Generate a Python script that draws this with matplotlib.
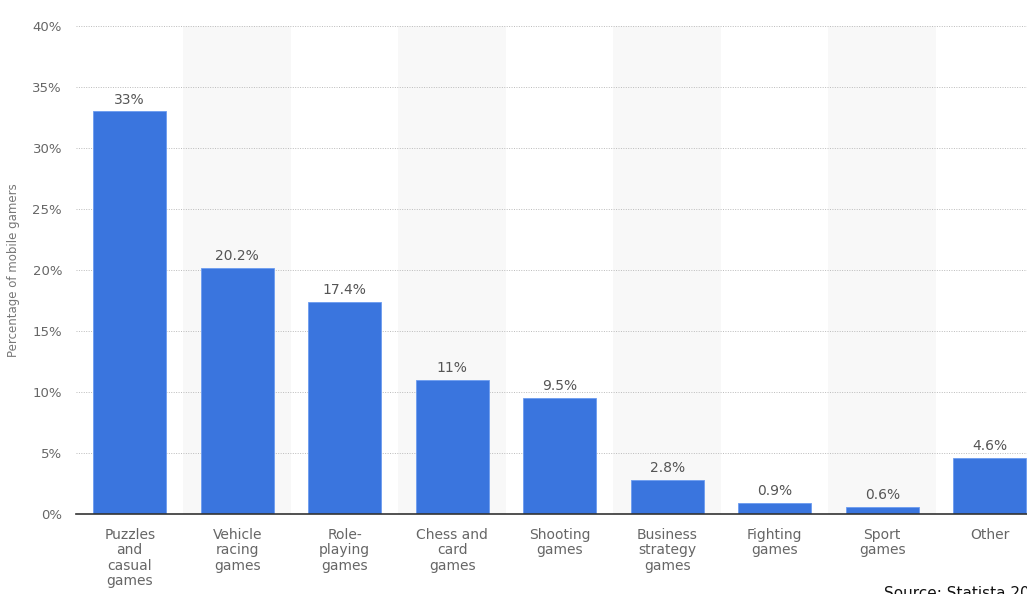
import matplotlib
matplotlib.use("Agg")
import matplotlib.pyplot as plt

categories = ["Puzzles\nand\ncasual\ngames", "Vehicle\nracing\ngames", "Role-\nplaying\ngames",
              "Chess and\ncard\ngames", "Shooting\ngames", "Business\nstrategy\ngames",
              "Fighting\ngames", "Sport\ngames", "Other"]
values = [33, 20.2, 17.4, 11, 9.5, 2.8, 0.9, 0.6, 4.6]
value_labels = ["33%", "20.2%", "17.4%", "11%", "9.5%", "2.8%", "0.9%", "0.6%", "4.6%"]
yticks = [0, 5, 10, 15, 20, 25, 30, 35, 40]

fig = plt.figure(figsize=(10.27, 5.94), dpi=100)
ax = fig.add_axes([0.074, 0.1347, 0.942, 0.8215])

x = list(range(len(categories)))
# alternating background bands
for i in x:
    if i % 2 == 1:
        ax.axvspan(i - 0.5, i + 0.5, color="#f8f8f8", zorder=0, lw=0)

ax.bar(x, values, width=0.68, color="#3a75de", edgecolor="#6c9cf0", linewidth=0.6, zorder=3)
for xi, v, lab in zip(x, values, value_labels):
    ax.text(xi, v + 0.4, lab, ha="center", va="bottom", fontsize=10, color="#555555", zorder=4)

ax.set_xlim(-0.5, len(categories) - 0.5)
ax.set_ylim(0, 40)
ax.set_yticks(yticks)
ax.set_yticklabels([f"{t}%" for t in yticks])
ax.set_xticks(x)
ax.set_xticklabels(categories, fontsize=10, color="#666666", linespacing=1.12, va="top")
ax.tick_params(axis="x", length=0, pad=10)
ax.tick_params(axis="y", length=0, pad=10, labelsize=9.5, labelcolor="#666666")
ax.grid(axis="y", linestyle=(0, (1, 1.5)), color="#bbbbbb", linewidth=0.7, zorder=1)
for s in ["top", "right", "left"]:
    ax.spines[s].set_visible(False)
ax.spines["bottom"].set_color("#333333")
ax.spines["bottom"].set_linewidth(1.2)
ax.spines["bottom"].set_zorder(5)

ax.set_ylabel("Percentage of mobile gamers", fontsize=8.5, color="#777777", labelpad=9)
fig.text(0.861, 0.0, "Source: Statista 2018", fontsize=11, color="#111111", ha="left", va="center")

fig.savefig("out.png", dpi=100)
